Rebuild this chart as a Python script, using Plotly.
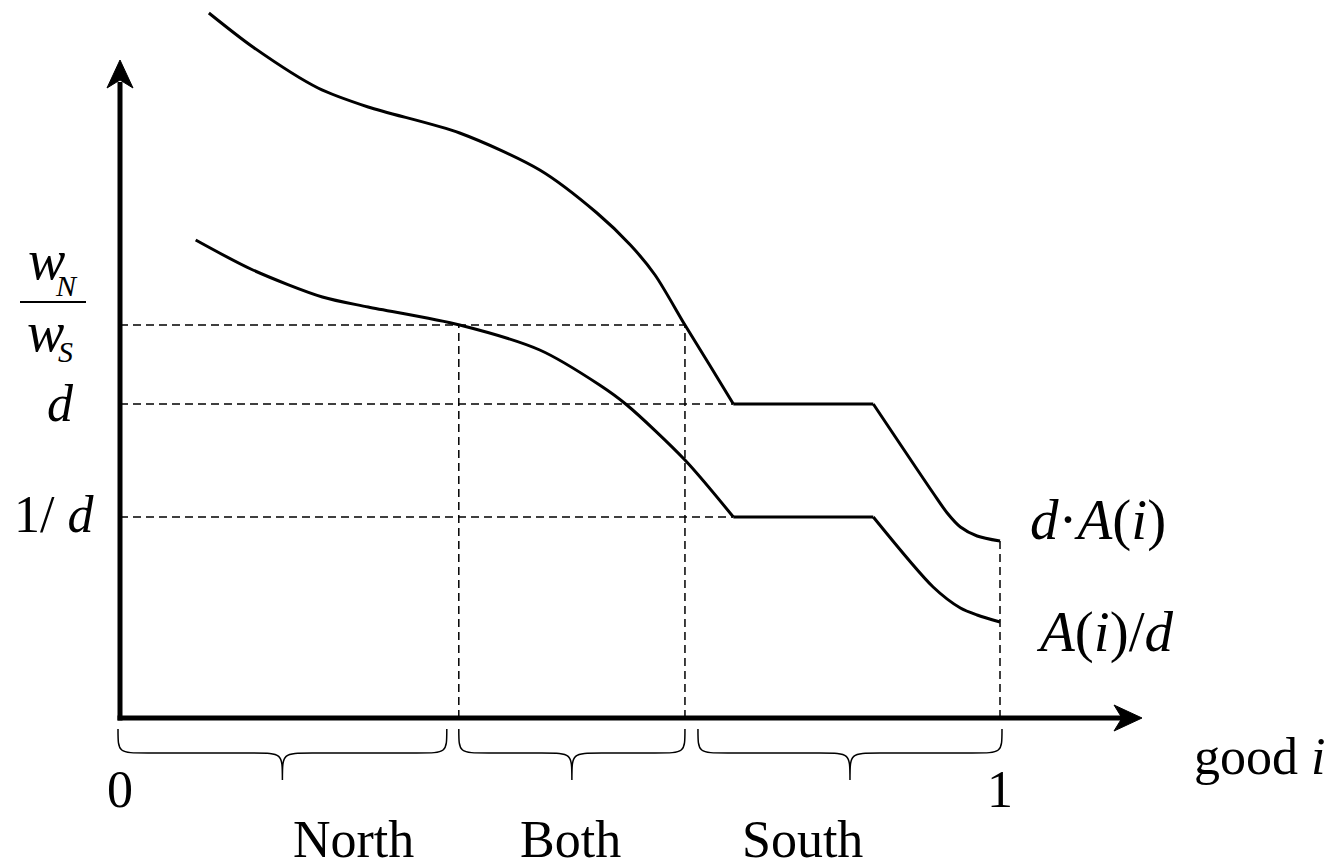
import plotly.graph_objects as go

# ---------------- data ----------------
# good index i on [0,1]; vertical scale in arbitrary units
upper_x1 = [0.101, 0.151, 0.225, 0.282, 0.386, 0.477, 0.542, 0.580, 0.608, 0.642, 0.670, 0.697]
upper_y1 = [7.05, 6.71, 6.30, 6.11, 5.85, 5.48, 5.05, 4.73, 4.43, 3.93, 3.53, 3.14]
upper_x2 = [0.697, 0.856]
upper_y2 = [3.14, 3.14]
upper_x3 = [0.856, 0.924, 0.940, 0.955, 0.974, 1.000]
upper_y3 = [3.14, 2.25, 2.05, 1.91, 1.82, 1.77]

lower_x1 = [0.086, 0.151, 0.230, 0.282, 0.386, 0.477, 0.545, 0.576, 0.642, 0.697]
lower_y1 = [4.78, 4.48, 4.21, 4.11, 3.93, 3.68, 3.33, 3.13, 2.58, 2.01]
lower_x2 = [0.697, 0.856]
lower_y2 = [2.01, 2.01]
lower_x3 = [0.856, 0.924, 0.955, 0.974, 1.000]
lower_y3 = [2.01, 1.31, 1.10, 1.03, 0.96]

level_wage = 3.93     # w_N / w_S
level_d = 3.14        # d
level_inv_d = 2.01    # 1/d
i_north = 0.385       # boundary North / Both
i_south = 0.642       # boundary Both / South
i_kink = 0.697        # start of flat segment
end_upper = 1.77

regions = ["North", "Both", "South"]
region_bounds = [0.0, i_north, i_south, 1.0]
tick_labels = ["0", "1"]
tick_vals = [0.0, 1.0]

# ---------------- geometry helpers ----------------
W, H = 1332, 867
X0PX, X1PX = 120, 1000   # pixel of i=0 and i=1
Y0PX, YSCALE = 718, 100  # pixel of y=0, pixels per unit

def px2x(px):
    return (px - X0PX) / (X1PX - X0PX)

def py2y(py):
    return (Y0PX - py) / YSCALE

FONT = "Liberation Serif, Times New Roman, serif"
FS = 52

fig = go.Figure()

for xs, ys, shp in [
    (upper_x1, upper_y1, "spline"), (upper_x2, upper_y2, "linear"), (upper_x3, upper_y3, "spline"),
    (lower_x1, lower_y1, "spline"), (lower_x2, lower_y2, "linear"), (lower_x3, lower_y3, "spline"),
]:
    fig.add_trace(go.Scatter(x=xs, y=ys, mode="lines",
                             line=dict(color="black", width=3, shape=shp, smoothing=0.8),
                             hoverinfo="skip", showlegend=False))

shapes = []
dash = dict(color="black", width=1.5, dash="8px,5px")
# horizontal dashed guides
shapes.append(dict(type="line", x0=0, x1=i_south, y0=level_wage, y1=level_wage, line=dash))
shapes.append(dict(type="line", x0=0, x1=i_kink, y0=level_d, y1=level_d, line=dash))
shapes.append(dict(type="line", x0=0, x1=i_kink, y0=level_inv_d, y1=level_inv_d, line=dash))
# vertical dashed guides
shapes.append(dict(type="line", x0=i_north, x1=i_north, y0=0, y1=level_wage, line=dash))
shapes.append(dict(type="line", x0=i_south, x1=i_south, y0=0, y1=level_wage, line=dash))
shapes.append(dict(type="line", x0=1.0, x1=1.0, y0=0, y1=end_upper, line=dash))

# axes with arrow heads
ax_w = 5
shapes.append(dict(type="line", x0=0, x1=0, y0=py2y(Y0PX + 2.5), y1=py2y(82),
                   line=dict(color="black", width=ax_w)))
shapes.append(dict(type="line", x0=px2x(X0PX - 2.5), x1=px2x(1122), y0=0, y1=0,
                   line=dict(color="black", width=ax_w)))
tipy = py2y(60)
shapes.append(dict(type="path",
                   path=f"M {px2x(120)},{tipy} L {px2x(133)},{py2y(88)} L {px2x(120)},{py2y(80)} "
                        f"L {px2x(107)},{py2y(88)} Z",
                   fillcolor="black", line=dict(color="black", width=1)))
tipx = px2x(1142)
shapes.append(dict(type="path",
                   path=f"M {tipx},0 L {px2x(1114)},{py2y(705)} L {px2x(1122)},0 "
                        f"L {px2x(1114)},{py2y(731)} Z",
                   fillcolor="black", line=dict(color="black", width=1)))

# braces under the axis
top, mid, bot = py2y(729), py2y(753), py2y(780)
r = 30 / (X1PX - X0PX)
g = 1 / (X1PX - X0PX)   # one pixel in x units
brace_spans = [
    (region_bounds[0] - 2 * g, region_bounds[1] - 12 * g),
    (region_bounds[1], region_bounds[2]),
    (region_bounds[2] + 13 * g, region_bounds[3] + 2 * g),
]
for a, b in brace_spans:
    c = (a + b) / 2
    p = (f"M {a},{top} C {a},{mid} {a},{mid} {a + r},{mid} L {c - r},{mid} "
         f"C {c},{mid} {c},{mid} {c},{bot} C {c},{mid} {c},{mid} {c + r},{mid} "
         f"L {b - r},{mid} C {b},{mid} {b},{mid} {b},{top}")
    shapes.append(dict(type="path", path=p, line=dict(color="black", width=1.5)))

# fraction bar
shapes.append(dict(type="line", x0=px2x(20), x1=px2x(86), y0=py2y(302), y1=py2y(302),
                   line=dict(color="black", width=2)))

ann = []
def txt(s, xpx, ypx, size=FS, xanchor="center"):
    ann.append(dict(text=s, x=px2x(xpx), y=py2y(ypx), xref="x", yref="y", showarrow=False,
                    xanchor=xanchor, yanchor="middle",
                    font=dict(family=FONT, size=size, color="black")))

# tick labels
for v, t in zip(tick_vals, tick_labels):
    txt(t, X0PX + v * (X1PX - X0PX), 789)
# regions (label centres in pixels)
region_px = [353, 570, 802]
for name, cx in zip(regions, region_px):
    txt(name, cx, 839)

# y labels
txt("<i>w</i>", 46, 260, size=56)
txt("<i>N</i>", 66, 285, size=30)
txt("<i>w</i>", 45, 332, size=56)
txt("<i>S</i>", 65, 351, size=30)
txt("<i>d</i>", 60, 403)
txt("1/ <i>d</i>", 54, 514)

# curve labels
txt("<i>d</i>·<i>A</i>(<i>i</i>)", 1028, 520, size=57, xanchor="left")
txt("<i>A</i>(<i>i</i>)/<i>d</i>", 1034, 632, size=57, xanchor="left")
txt("good <i>i</i>", 1327, 756, xanchor="right", size=52)

fig.update_layout(
    width=W, height=H, margin=dict(l=0, r=0, t=0, b=0),
    paper_bgcolor="white", plot_bgcolor="white",
    xaxis=dict(range=[px2x(0), px2x(W)], visible=False, fixedrange=True),
    yaxis=dict(range=[py2y(H), py2y(0)], visible=False, fixedrange=True),
    shapes=shapes, annotations=ann, showlegend=False,
)

fig.write_html("out.html", post_script="document.body.style.margin='0';",
               config={"displayModeBar": False})
